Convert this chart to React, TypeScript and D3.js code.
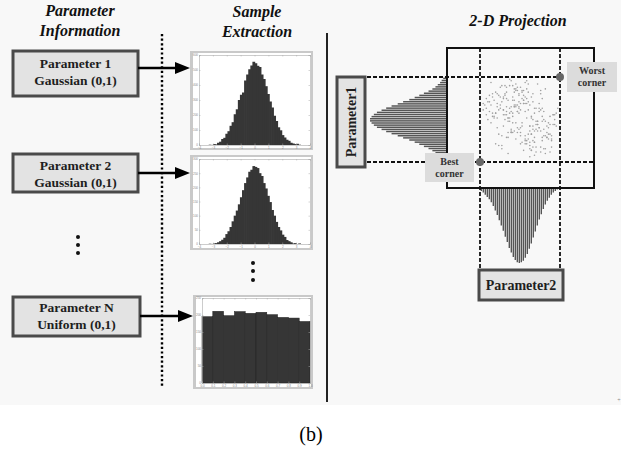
import React, { useRef, useEffect } from 'react';
import * as d3 from 'd3';

const W = 621;
const H = 449;
const SERIF = "'Liberation Serif', 'Times New Roman', serif";

// --- sample extraction histograms (bin counts) ---
const gauss1Counts = [
  2, 0, 6, 4, 15, 22, 40, 48, 75, 92, 128, 152, 205, 238, 300, 335, 350, 430, 470, 505, 530, 555,
  545, 528, 520, 470, 440, 392, 340, 290, 250, 195, 160, 118, 98, 66, 50, 35, 28, 15, 10, 6, 8, 2,
];
const gauss2Counts = [
  1, 0, 2, 3, 6, 10, 15, 22, 35, 45, 60, 80, 100, 118, 140, 165, 190, 215, 235, 255, 262, 275,
  272, 268, 250, 240, 215, 196, 170, 148, 120, 100, 78, 60, 48, 33, 25, 14, 10, 6, 2, 3, 0, 2,
];
const gaussRange = [-3.3, 3.3];
const uniformCounts = [195, 211, 198, 210, 205, 208, 201, 193, 191, 181];
const uniformRange = [0, 1];

const gaussTicksX = [-4, -3, -2, -1, 0, 1, 2, 3, 4];
const gauss1TicksY = [0, 100, 200, 300, 400, 500, 600];
const gauss2TicksY = [0, 50, 100, 150, 200, 250, 300];
const uniformTicksX = [0, 0.1, 0.2, 0.3, 0.4, 0.5, 0.6, 0.7, 0.8, 0.9, 1];
const uniformTicksY = [0, 50, 100, 150, 200, 250];

// --- 2-D projection: marginals and sample cloud ---
const marginal1 = [
  5, 7, 9, 12, 15, 19, 24, 30, 36, 42, 49, 57, 64, 72, 79, 85, 91, 95, 98, 100,
  100, 98, 95, 91, 85, 79, 72, 64, 57, 49, 42, 36, 30, 24, 19, 15, 12, 9, 7, 5,
];
const marginal2 = [
  4, 6, 9, 12, 15, 19, 24, 30, 36, 43, 50, 57, 65, 72, 80, 86, 92, 96, 99, 100,
  99, 97, 93, 88, 81, 74, 66, 58, 50, 42, 35, 28, 22, 17, 13, 9, 6, 4, 2, 1,
];
const cloudX = [
  -1.8, 0.4, 1.2, -0.3, 2.1, -1.1, 0.7, -2.2, 1.6, 0.1,
  -0.6, 1.9, -1.5, 0.9, -0.1, 2.3, -2.0, 0.3, 1.4, -0.9,
  0.6, -1.3, 1.1, -0.4, 1.8, -2.4, 0.0, 1.5, -0.7, 2.0,
  -1.7, 0.8, -0.2, 1.3, -1.0, 2.2, -0.5, 0.5, -1.9, 1.0,
  0.2, -1.4, 1.7, -0.8, 2.4, -1.2, 0.4, -2.1, 1.2, -0.3,
  1.6, -0.6, 0.9, -1.6, 0.1, 1.9, -2.3, 0.7, -0.9, 1.4,
  -0.1, 2.0, -1.1, 0.6, -1.8, 1.1, -0.4, 0.3, 1.7, -1.5,
  0.8, -2.0, 1.3, -0.2, 2.1, -0.7, 0.0, -1.3, 1.5, -0.5,
  1.0, -1.9, 0.5, 2.3, -1.0, 0.2, -0.8, 1.8, -1.6, 0.9,
  -0.3, 1.2, -2.2, 0.4, 1.6, -1.4, 0.7, -0.6, 2.2, -1.2,
  0.1, 1.4, -0.9, 0.6, -1.7, 1.9, -0.2, 1.1, -2.4, 0.3,
  -0.5, 0.8, 1.5, -1.1, 2.0, -0.4, 0.0, -1.5, 1.3, -0.8,
  0.2, -0.5, 1.0, -1.2, 0.7, -0.1, 1.3, -0.8, 0.4, -1.6,
  0.9, -0.3, 0.0, 1.6, -0.7, 0.5, -1.1, 0.3, 1.1, -0.4,
  -0.9, 0.6, -0.2, 1.4, -1.4, 0.1, 0.8, -0.6, 1.8, -1.0,
  0.3, -1.8, 0.7, -0.1, 1.2, -0.5, 0.4, -1.3, 0.9, 0.0,
  -0.8, 1.5, -0.3, 0.6, -1.5, 0.2, 1.0, -0.7, 0.5, -2.0,
  1.7, -0.2, 0.1, -0.9, 1.3, -0.4, 0.8, -1.1, 0.3, 2.1,
  -0.6, 0.4, -1.7, 1.1, -0.1, 0.6, -1.2, 1.9, -0.5, 0.2,
  -1.0, 0.9, -0.3, 1.4, -0.8, 0.0, 1.6, -1.4, 0.5, -0.2,
  1.2, -1.9, 0.7, -0.6, 0.3, -1.1, 2.2, -0.4, 0.8, -0.9,
  0.1, 1.0, -1.5, 0.4, -0.1, 1.5, -0.7, 0.6, -2.2, 1.1,
  -0.3, 0.2, -1.2, 0.9, 1.8, -0.5, 0.0, -1.6, 0.7, -0.8,
  1.3, -0.2, 0.5, -1.0, 2.0, -1.3, 0.3, -0.6, 1.0, -0.4,
  0.6, -1.8, 1.4, -0.1, -0.9, 0.8, -2.1, 0.2, 1.7, -0.7,
];
const cloudY = [
  0.3, -1.6, 0.9, 2.1, -0.4, 1.2, -2.0, 0.6, -1.1, 1.7,
  -0.8, 0.1, 1.5, -2.3, 0.7, -0.5, 1.0, 2.2, -1.4, 0.4,
  -1.9, 1.3, -0.2, 0.8, -1.0, 0.5, 1.9, -0.7, 2.4, -1.3,
  1.1, -0.1, 0.4, -1.8, 2.0, 0.2, -0.9, 1.6, -0.3, -2.1,
  0.9, 1.4, -1.2, 0.0, 0.6, -1.7, 2.3, 1.0, -0.6, 1.8,
  -2.2, 0.7, -1.5, 0.3, 1.2, -0.4, 0.8, -1.0, 1.9, -0.2,
  1.5, -1.1, 0.5, -2.4, 0.1, 2.1, -0.8, 1.3, -0.5, 0.9,
  -1.4, 0.4, 1.7, -0.9, 0.2, 2.0, -1.6, 0.6, -0.1, 1.1,
  -0.7, 2.2, -1.3, 0.3, 1.4, -2.0, 0.0, -0.3, 1.6, -1.2,
  0.8, -0.6, 0.2, 1.8, -1.9, 0.5, -1.0, 2.3, -0.4, 1.0,
  -1.5, 0.6, 1.2, -0.8, 0.1, -2.1, 1.7, -0.2, 0.9, -1.3,
  2.0, -0.5, 0.4, 1.3, -1.8, 0.7, -1.1, 0.0, 1.5, -0.9,
  1.1, -0.3, 0.6, -1.9, 0.0, 1.4, -0.8, -1.2, 0.9, 0.3,
  -1.5, 0.7, -0.6, 1.8, -0.2, 1.0, 0.5, -1.1, -0.4, 1.6,
  0.2, -1.7, 0.8, 1.2, -1.0, -0.5, 1.5, 0.4, -1.3, -0.1,
  0.9, 1.3, -2.0, -0.7, 0.6, 0.1, -1.4, 1.9, 0.3, -0.9,
  -0.2, -1.1, 1.7, 0.8, -0.6, 1.1, -1.8, 0.0, 0.5, 1.4,
  -1.2, 0.4, -0.3, 1.6, -2.1, 0.7, 1.0, -0.5, -1.6, 0.2,
  -0.9, 1.2, 0.0, -0.4, 0.6, -1.5, 2.0, -1.0, 0.3, 0.9,
  1.5, -0.8, -1.3, 0.1, 1.1, 0.5, -0.2, -1.7, 2.1, -0.6,
  0.4, 0.8, 1.3, -0.9, -1.4, 0.2, -0.1, 1.8, -0.7, -1.2,
  1.6, -0.4, 0.7, 0.0, 1.0, -1.9, 0.3, -0.5, 1.2, -0.8,
  -0.3, 1.7, -1.1, 0.6, -0.6, 1.3, 0.9, -1.6, 0.1, -2.2,
  0.5, 1.9, -1.0, 0.2, -1.4, 0.8, 0.4, -0.7, -0.2, 1.1,
  -0.5, 1.5, -1.2, 0.3, 0.7, -1.8, -0.1, 1.4, -0.9, 0.6,
];

const paramLabels = [
  ['Parameter 1', 'Gaussian (0,1)'],
  ['Parameter 2', 'Gaussian (0,1)'],
  ['Parameter N', 'Uniform (0,1)'],
];

type Box = { x0: number; x1: number; y0: number; y1: number };

const drawHist = (
  svg: any,
  frame: Box,
  plot: Box,
  counts: number[],
  range: number[],
  xDomain: number[],
  yMax: number,
  xTicks: number[],
  yTicks: number[],
  separated: boolean
) => {
  svg.append('rect')
    .attr('x', frame.x0).attr('y', frame.y0)
    .attr('width', frame.x1 - frame.x0).attr('height', frame.y1 - frame.y0)
    .attr('fill', '#c9c9c9');
  svg.append('rect')
    .attr('x', frame.x0 + 3).attr('y', frame.y0 + 2)
    .attr('width', frame.x1 - frame.x0 - 5).attr('height', frame.y1 - frame.y0 - 4)
    .attr('fill', '#ffffff');

  const x = d3.scaleLinear().domain(xDomain).range([plot.x0, plot.x1]);
  const y = d3.scaleLinear().domain([0, yMax]).range([plot.y1, plot.y0]);
  const bw = (range[1] - range[0]) / counts.length;

  svg.append('g')
    .selectAll('rect')
    .data(counts)
    .enter()
    .append('rect')
    .attr('x', (_d: number, i: number) => x(range[0] + i * bw))
    .attr('width', x(range[0] + bw) - x(range[0]) + (separated ? 0 : 0.7))
    .attr('y', (d: number) => y(d))
    .attr('height', (d: number) => y(0) - y(d))
    .attr('fill', '#363636')
    .attr('stroke', separated ? '#222' : 'none')
    .attr('stroke-width', 0.5);

  const style = (g: any) => {
    g.selectAll('text').attr('font-size', 3).attr('fill', '#888').attr('font-family', 'sans-serif');
    g.selectAll('line').attr('stroke', '#aaa').attr('stroke-width', 0.5);
    g.select('.domain').attr('stroke', '#aaa').attr('stroke-width', 0.6);
  };
  svg.append('g').attr('transform', `translate(0,${plot.y1})`)
    .call(d3.axisBottom(x).tickValues(xTicks).tickSize(-1.5).tickPadding(1.5)).call(style);
  svg.append('g').attr('transform', `translate(0,${plot.y0})`)
    .call(d3.axisTop(x).tickValues(xTicks).tickSize(-1.5).tickFormat(() => '')).call(style);
  svg.append('g').attr('transform', `translate(${plot.x0},0)`)
    .call(d3.axisLeft(y).tickValues(yTicks).tickSize(-1.5).tickPadding(1)).call(style);
  svg.append('g').attr('transform', `translate(${plot.x1},0)`)
    .call(d3.axisRight(y).tickValues(yTicks).tickSize(-1.5).tickFormat(() => '')).call(style);
};

const paramBox = (svg: any, b: Box) =>
  svg.append('rect')
    .attr('x', b.x0).attr('y', b.y0)
    .attr('width', b.x1 - b.x0).attr('height', b.y1 - b.y0)
    .attr('fill', '#e3e3e3')
    .attr('stroke', '#4a4a4a')
    .attr('stroke-width', 3);

const arrow = (svg: any, x0: number, x1: number, yy: number) => {
  svg.append('line')
    .attr('x1', x0).attr('x2', x1 - 12).attr('y1', yy).attr('y2', yy)
    .attr('stroke', '#000').attr('stroke-width', 2.5);
  svg.append('path')
    .attr('d', `M${x1},${yy} L${x1 - 15},${yy - 6} L${x1 - 15},${yy + 6} Z`)
    .attr('fill', '#000');
};

const App = () => {
  const svgRef = useRef<SVGSVGElement>(null);

  useEffect(() => {
    if (!svgRef.current) return;
    d3.select(svgRef.current).selectAll('*').remove();
    const svg = d3.select(svgRef.current);

    svg.append('rect').attr('width', W).attr('height', 405).attr('fill', '#f8f8f8');

    const title = (txt: string, cx: number, yy: number) =>
      svg.append('text')
        .attr('x', cx).attr('y', yy)
        .attr('text-anchor', 'middle')
        .style('font-family', SERIF)
        .attr('font-weight', 'bold')
        .attr('font-style', 'italic')
        .attr('font-size', 16)
        .attr('fill', '#111')
        .text(txt);
    title('Parameter', 80, 16);
    title('Information', 80, 36);
    title('Sample', 257, 17);
    title('Extraction', 257, 37);
    title('2-D Projection', 518, 26);

    // dotted separator
    svg.append('line')
      .attr('x1', 162).attr('x2', 162).attr('y1', 34).attr('y2', 387)
      .attr('stroke', '#000').attr('stroke-width', 2.4)
      .attr('stroke-dasharray', '2.2 2.4');

    // parameter boxes and arrows
    const boxes: Box[] = [
      { x0: 13, x1: 138, y0: 51, y1: 96 },
      { x0: 13, x1: 138, y0: 154, y1: 192 },
      { x0: 13, x1: 140, y0: 297, y1: 336 },
    ];
    const lineY = [[68, 85], [170, 187], [312, 329]];
    const arrowY = [68, 173, 316];
    const arrowEnd = [190, 190, 193];
    boxes.forEach((b, i) => {
      paramBox(svg, b);
      paramLabels[i].forEach((t, j) => {
        svg.append('text')
          .attr('x', (b.x0 + b.x1) / 2).attr('y', lineY[i][j])
          .attr('text-anchor', 'middle')
          .style('font-family', SERIF).attr('font-weight', 'bold')
          .attr('font-size', 13.5).attr('fill', '#1e1e1e')
          .text(t);
      });
      arrow(svg, b.x1, arrowEnd[i], arrowY[i]);
    });

    // vertical ellipses
    [237, 245, 253].forEach(yy => svg.append('circle').attr('cx', 78).attr('cy', yy).attr('r', 2).attr('fill', '#111'));
    [263, 271, 280].forEach(yy => svg.append('circle').attr('cx', 253).attr('cy', yy).attr('r', 2).attr('fill', '#111'));

    // sample histograms
    drawHist(svg, { x0: 190, x1: 313, y0: 51, y1: 150 }, { x0: 199, x1: 310, y0: 55, y1: 145 },
      gauss1Counts, gaussRange, [-4, 4], 600, gaussTicksX, gauss1TicksY, false);
    drawHist(svg, { x0: 190, x1: 313, y0: 155, y1: 250 }, { x0: 199, x1: 310, y0: 159, y1: 244 },
      gauss2Counts, gaussRange, [-4, 4], 300, gaussTicksX, gauss2TicksY, false);
    drawHist(svg, { x0: 193, x1: 313, y0: 295, y1: 389 }, { x0: 202, x1: 310, y0: 298, y1: 383 },
      uniformCounts, uniformRange, [0, 1], 250, uniformTicksX, uniformTicksY, true);

    // solid separator
    svg.append('line')
      .attr('x1', 327).attr('x2', 327).attr('y1', 33).attr('y2', 402)
      .attr('stroke', '#222').attr('stroke-width', 2);

    // 2-D projection
    const sq: Box = { x0: 447, x1: 594, y0: 48, y1: 188 };
    const band1 = d3.scaleBand<number>().domain(d3.range(marginal1.length)).range([77, 162]);
    const len1 = d3.scaleLinear().domain([0, 100]).range([0, 77]);
    svg.append('g').selectAll('rect').data(marginal1).enter().append('rect')
      .attr('x', (d: number) => sq.x0 - len1(d))
      .attr('y', (_d: number, i: number) => band1(i)! + band1.bandwidth() * 0.3)
      .attr('width', (d: number) => len1(d))
      .attr('height', band1.bandwidth() * 0.7)
      .attr('fill', '#555');

    const band2 = d3.scaleBand<number>().domain(d3.range(marginal2.length)).range([480, 560]);
    const len2 = d3.scaleLinear().domain([0, 100]).range([0, 75]);
    svg.append('g').selectAll('rect').data(marginal2).enter().append('rect')
      .attr('x', (_d: number, i: number) => band2(i)! + band2.bandwidth() * 0.3)
      .attr('y', sq.y1)
      .attr('width', band2.bandwidth() * 0.7)
      .attr('height', (d: number) => len2(d))
      .attr('fill', '#555');

    const cx = d3.scaleLinear().domain([-2.35, 2.35]).range([484, 557]);
    const cy = d3.scaleLinear().domain([-2.35, 2.35]).range([156, 80]);
    svg.append('g').selectAll('circle').data(cloudX).enter().append('circle')
      .attr('cx', (d: number) => cx(d))
      .attr('cy', (_d: number, i: number) => cy(cloudY[i]))
      .attr('r', 0.8)
      .attr('fill', '#a0a0a0');

    svg.append('rect')
      .attr('x', sq.x0).attr('y', sq.y0)
      .attr('width', sq.x1 - sq.x0).attr('height', sq.y1 - sq.y0)
      .attr('fill', 'none').attr('stroke', '#111').attr('stroke-width', 2);

    const dash = (x1: number, y1: number, x2: number, y2: number) =>
      svg.append('line')
        .attr('x1', x1).attr('y1', y1).attr('x2', x2).attr('y2', y2)
        .attr('stroke', '#111').attr('stroke-width', 1.8)
        .attr('stroke-dasharray', '4 2');
    dash(367, 77, 560, 77);
    dash(367, 162, 594, 162);
    dash(480, 48, 480, 268);
    dash(560, 48, 560, 268);

    // corner labels
    const corner = (b: Box, lines: string[]) => {
      svg.append('rect')
        .attr('x', b.x0).attr('y', b.y0)
        .attr('width', b.x1 - b.x0).attr('height', b.y1 - b.y0)
        .attr('fill', '#dcdcdc');
      lines.forEach((t, j) =>
        svg.append('text')
          .attr('x', (b.x0 + b.x1) / 2).attr('y', b.y0 + 12 + j * 12)
          .attr('text-anchor', 'middle')
          .style('font-family', SERIF).attr('font-weight', 'bold')
          .attr('font-size', 10).attr('fill', '#333')
          .text(t));
    };
    corner({ x0: 567, x1: 617, y0: 62, y1: 92 }, ['Worst', 'corner']);
    corner({ x0: 425, x1: 474, y0: 153, y1: 182 }, ['Best', 'corner']);
    svg.append('circle').attr('cx', 560).attr('cy', 77).attr('r', 4).attr('fill', '#666');
    svg.append('circle').attr('cx', 480).attr('cy', 162).attr('r', 4).attr('fill', '#666');

    // Parameter1 / Parameter2 boxes
    paramBox(svg, { x0: 337, x1: 365, y0: 77, y1: 167 });
    svg.append('text')
      .attr('transform', 'translate(356,122) rotate(-90)')
      .attr('text-anchor', 'middle')
      .style('font-family', SERIF).attr('font-weight', 'bold')
      .attr('font-size', 14).attr('fill', '#1e1e1e')
      .text('Parameter1');
    paramBox(svg, { x0: 479, x1: 563, y0: 270, y1: 300 });
    svg.append('text')
      .attr('x', 521).attr('y', 290)
      .attr('text-anchor', 'middle')
      .style('font-family', SERIF).attr('font-weight', 'bold')
      .attr('font-size', 14).attr('fill', '#1e1e1e')
      .text('Parameter2');

    svg.append('text')
      .attr('x', 619).attr('y', 402)
      .attr('text-anchor', 'middle')
      .style('font-family', SERIF).attr('font-size', 6).attr('fill', '#888')
      .text('+');

    svg.append('text')
      .attr('x', 311).attr('y', 441)
      .attr('text-anchor', 'middle')
      .style('font-family', SERIF).attr('font-size', 20).attr('fill', '#000')
      .text('(b)');
  }, []);

  return (
    <svg
      ref={svgRef}
      width={W}
      height={H}
      style={{ position: 'absolute', left: 0, top: 0, display: 'block', background: '#fff' }}
    />
  );
};

export default App;
